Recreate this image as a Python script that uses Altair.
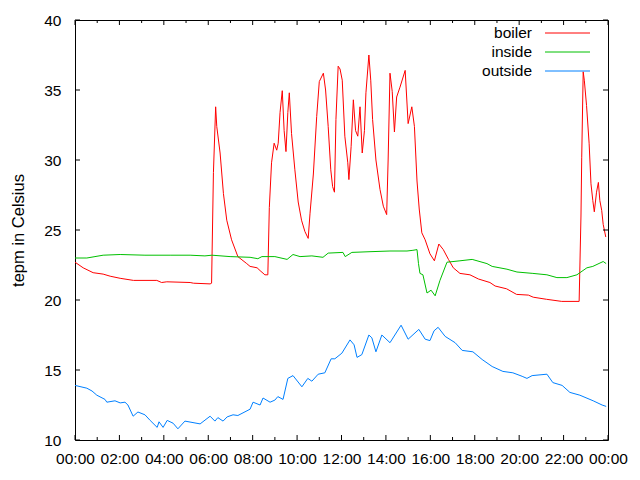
import altair as alt
import pandas as pd

# ---- data ----
boiler_time = ["00:00","00:22","00:49","01:16","01:35","02:02","02:38","03:41","03:54","04:08","05:11","05:20","06:05","06:09","06:14","06:20","06:23","06:32","06:41","06:50","07:03","07:20","07:44","07:53","08:12","08:20","08:33","08:41","08:45","08:51","08:58","09:05","09:09","09:14","09:20","09:25","09:30","09:35","09:39","09:45","09:54","10:03","10:12","10:21","10:30","10:35","10:44","10:53","11:00","11:11","11:17","11:24","11:31","11:36","11:41","11:45","11:51","11:56","12:02","12:09","12:17","12:20","12:26","12:32","12:38","12:44","12:50","12:56","13:02","13:06","13:14","13:19","13:24","13:33","13:44","13:53","14:02","14:06","14:11","14:17","14:23","14:29","14:38","14:52","15:00","15:10","15:17","15:24","15:30","15:37","15:46","15:59","16:11","16:23","16:35","16:49","17:02","17:20","17:47","18:10","18:41","18:55","19:26","19:53","20:25","20:38","21:14","21:55","22:42","22:47","22:49","22:53","22:56","23:02","23:09","23:14","23:19","23:23","23:29","23:34","23:38","23:43","23:47","23:54"]
boiler_temp = [22.7,22.3,21.95,21.85,21.7,21.55,21.4,21.4,21.25,21.3,21.25,21.2,21.15,21.2,29.1,33.8,32.4,30.5,27.6,25.7,24.3,23.1,22.6,22.4,22.3,22.1,21.8,21.8,26.6,29.8,31.2,30.7,31.2,33.4,34.95,32.1,30.6,33.4,34.8,31.9,29.3,27.0,25.7,24.9,24.4,26.2,29.0,33.1,35.6,36.2,35.0,32.4,29.3,28.1,27.7,32.9,36.7,36.5,35.7,31.7,29.8,28.6,30.95,34.3,32.1,31.7,33.8,30.5,32.1,34.8,37.5,35.7,32.9,30.0,27.9,26.7,26.1,30.0,36.2,34.9,32.0,34.5,35.2,36.4,32.6,33.8,32.4,28.5,26.5,24.8,24.3,23.3,22.8,24.0,23.6,22.9,22.3,21.9,21.8,21.5,21.25,21.0,20.8,20.4,20.35,20.2,20.05,19.9,19.9,26.0,30.2,36.3,35.7,33.9,31.2,28.3,27.1,26.3,27.7,28.4,27.1,26.4,25.4,24.5]

inside_time = ["00:00","00:32","00:54","01:16","02:02","03:09","04:17","05:11","05:51","06:10","06:59","07:53","08:14","08:25","09:00","09:33","09:49","10:08","10:40","11:10","11:24","12:04","12:10","12:28","13:17","14:11","14:57","15:13","15:24","15:28","15:32","15:40","15:51","16:02","16:13","16:26","16:45","17:20","17:53","18:33","18:47","19:27","19:54","20:37","21:15","21:42","22:09","22:36","23:03","23:19","23:47","23:55"]
inside_temp = [23.0,23.0,23.1,23.2,23.25,23.2,23.2,23.2,23.15,23.2,23.1,23.05,22.95,23.1,23.1,22.9,23.25,23.1,23.15,23.05,23.35,23.4,23.1,23.4,23.45,23.5,23.5,23.55,23.6,22.6,21.9,21.8,20.5,20.7,20.3,21.4,22.7,22.8,22.9,22.6,22.4,22.2,22.0,21.9,21.8,21.6,21.6,21.8,22.3,22.4,22.75,22.6]

outside_time = ["00:00","00:32","00:46","00:59","01:21","01:26","01:48","02:02","02:15","02:23","02:37","02:50","03:09","03:23","03:42","03:47","03:58","04:09","04:25","04:38","04:57","05:38","06:05","06:18","06:26","06:40","06:51","07:07","07:20","07:53","08:01","08:20","08:28","08:47","09:00","09:08","09:22","09:35","09:49","10:13","10:29","10:40","10:57","11:15","11:32","11:42","12:01","12:23","12:34","12:42","12:55","13:14","13:22","13:33","13:49","14:11","14:41","15:00","15:29","15:46","15:59","16:10","16:21","16:40","17:07","17:26","17:55","18:20","18:47","19:16","19:43","20:08","20:21","20:35","21:15","21:31","21:56","22:17","22:44","23:20","23:44","23:55"]
outside_temp = [13.9,13.7,13.5,13.2,12.9,12.7,12.8,12.65,12.7,12.5,11.7,12.0,11.8,11.4,10.9,11.3,10.9,11.4,11.2,10.8,11.35,11.15,11.7,11.35,11.6,11.35,11.65,11.8,11.75,12.2,12.7,12.5,13.0,12.7,12.85,13.1,12.9,14.4,14.6,13.8,14.4,14.2,14.7,14.8,15.8,15.8,16.2,17.15,16.8,15.9,16.1,17.5,17.3,16.3,17.5,16.95,18.2,17.2,17.9,17.2,17.1,17.8,18.05,17.4,16.95,16.4,16.3,15.75,15.25,14.9,14.8,14.55,14.4,14.6,14.7,14.1,13.9,13.4,13.2,12.8,12.5,12.4]

series_names = ["boiler", "inside", "outside"]
series_colors = ["#ff0000", "#00c000", "#0080ff"]
x_tick_hours = list(range(0, 25))
y_tick_values = [10, 15, 20, 25, 30, 35, 40]
y_title = "tepm in Celsius"


def to_hours(t):
    h, m = t.split(":")
    return int(h) + int(m) / 60.0


rows = []
for name, times, temps in [("boiler", boiler_time, boiler_temp),
                           ("inside", inside_time, inside_temp),
                           ("outside", outside_time, outside_temp)]:
    for t, v in zip(times, temps):
        rows.append({"series": name, "hour": to_hours(t), "temp": v})
df = pd.DataFrame(rows)

W, H = 533, 420
FONT = "Liberation Sans"
FS = 15.5

xscale = alt.Scale(domain=[0, 24], nice=False, zero=False)
yscale = alt.Scale(domain=[10, 40], nice=False, zero=False)

x_axis = alt.Axis(values=list(range(0, 25, 2)),
                  labelExpr="(datum.value % 24 < 10 ? '0' : '') + (datum.value % 24) + ':00'",
                  domain=False, ticks=False, grid=False, labelPadding=11,
                  labelOverlap=False, labelBound=False, labelFlush=False,
                  labelFont=FONT, labelFontSize=FS, labelColor="#000000", title=None)
y_axis = alt.Axis(values=y_tick_values, domain=False, ticks=False, grid=False,
                  labelPadding=14, labelFont=FONT, labelFontSize=FS, labelColor="#000000",
                  labelOverlap=False,
                  title=y_title, titleFont=FONT, titleFontSize=16.5, titleFontWeight="normal",
                  titleColor="#000000", titleAngle=-90, titleX=-57, titleY=H / 2,
                  titleAlign="center", titleBaseline="middle")

X = alt.X("hour:Q", scale=xscale, axis=x_axis)
Y = alt.Y("temp:Q", scale=yscale, axis=y_axis)

lines = alt.Chart(df).mark_line(strokeWidth=1, interpolate="linear").encode(
    x=X, y=Y,
    color=alt.Color("series:N", scale=alt.Scale(domain=series_names, range=series_colors), legend=None),
    detail="series:N",
)

xt = pd.DataFrame({"hour": x_tick_hours})
xt["major"] = xt["hour"] % 2 == 0
xt_major = xt[xt["major"]]
xt_minor = xt[~xt["major"]]
yt = pd.DataFrame({"temp": y_tick_values})

layers = [lines]
for d, ln in [(xt_major, 5), (xt_minor, 3)]:
    layers.append(alt.Chart(d).mark_rule(color="black", strokeWidth=1).encode(
        x=X, y=alt.value(H), y2=alt.value(H - ln)))
    layers.append(alt.Chart(d).mark_rule(color="black", strokeWidth=1).encode(
        x=X, y=alt.value(0), y2=alt.value(ln)))
layers.append(alt.Chart(yt).mark_rule(color="black", strokeWidth=1).encode(
    y=Y, x=alt.value(0), x2=alt.value(5)))
layers.append(alt.Chart(yt).mark_rule(color="black", strokeWidth=1).encode(
    y=Y, x=alt.value(W), x2=alt.value(W - 5)))

# legend (gnuplot style: label left, sample line right)
leg_df = pd.DataFrame({"series": series_names})
for i, (name, col) in enumerate(zip(series_names, series_colors)):
    yy = 13 + i * 19
    one = leg_df[leg_df["series"] == name]
    layers.append(alt.Chart(one).mark_text(align="right", baseline="middle", font=FONT,
                                           fontSize=FS, color="#000000").encode(
        text="series:N", x=alt.value(457), y=alt.value(yy)))
    layers.append(alt.Chart(one).mark_rule(color=col, strokeWidth=1).encode(
        x=alt.value(470), x2=alt.value(515), y=alt.value(yy)))

chart = alt.layer(*layers).properties(
    width=W, height=H,
    autosize=alt.AutoSizeParams(type="none"),
    padding={"left": 67, "top": 12, "right": 24, "bottom": 36},
    background="white",
).configure_view(stroke="black", strokeWidth=1)

chart.save("out.html", embed_options={"renderer": "svg", "actions": False})
